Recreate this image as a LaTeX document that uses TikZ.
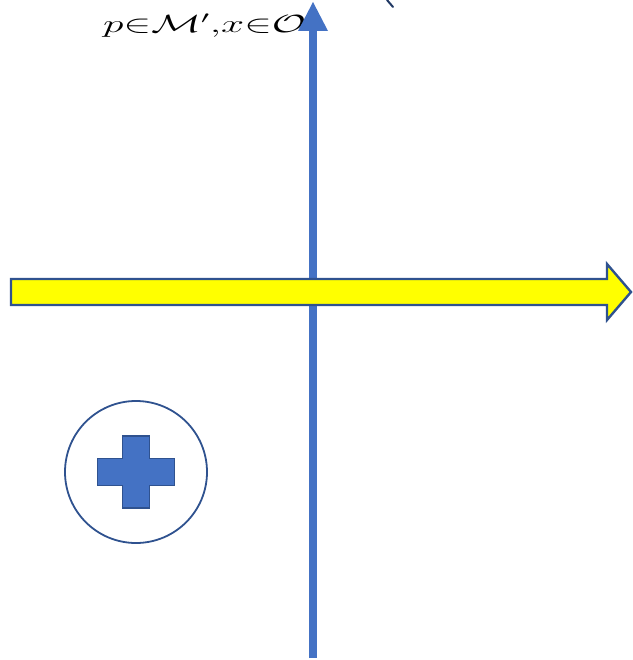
\documentclass[tikz,border=0pt]{standalone}
\usepackage{amsmath}
\usepackage{graphicx}
\begin{document}
\begin{tikzpicture}[x=1pt,y=-1pt]
\definecolor{lineblue}{HTML}{4472C4}
\definecolor{edgeblue}{HTML}{2F528F}
\definecolor{arrowyellow}{HTML}{FFFF00}
\tikzset{
  axisline/.style={draw=lineblue,line width=8pt},
  yellowarrow/.style={fill=arrowyellow,draw=edgeblue,line width=2.4pt,line join=miter},
  ringstyle/.style={circle,draw=edgeblue,line width=1.8pt,fill=white,minimum size=142pt,inner sep=0pt},
  crossstyle/.style={fill=lineblue,draw=edgeblue,line width=1.6pt},
  labelstyle/.style={font=\huge,inner sep=0pt,anchor=base west}
}
\useasboundingbox (0,0) rectangle (632,660);
% label (partly hidden under the arrow head)
\node[labelstyle] (lbl) at (103,33) {\scalebox{2.0}[1.2]{$p{\in}\mathcal{M}'{,}x{\in}\mathcal{O}$}};
% small fragment at top right
\draw[edgeblue!70!black,line width=2pt,line cap=round] (387,0) -- (393,7);
% vertical axis with arrow head
\coordinate (vbot) at (313,658);
\coordinate (vtop) at (313,30);
\coordinate (vtip) at (313,2);
\draw[axisline] (vbot) -- (vtop);
\fill[lineblue] (298,31) -- (vtip) -- (328,31) -- cycle;
% yellow block arrow
\draw[yellowarrow] (11,279) -- (607,279) -- (607,264) -- (631,292) -- (607,320) -- (607,305) -- (11,305) -- cycle;
% plus sign in a circle
\node[ringstyle] (ring) at (136,472) {};
\draw[crossstyle] (ring.center) ++(-13.5,-36) -- ++(27,0) -- ++(0,22.5) -- ++(25,0) -- ++(0,27) -- ++(-25,0) -- ++(0,22.5) -- ++(-27,0) -- ++(0,-22.5) -- ++(-25,0) -- ++(0,-27) -- ++(25,0) -- cycle;
\end{tikzpicture}
\end{document}
